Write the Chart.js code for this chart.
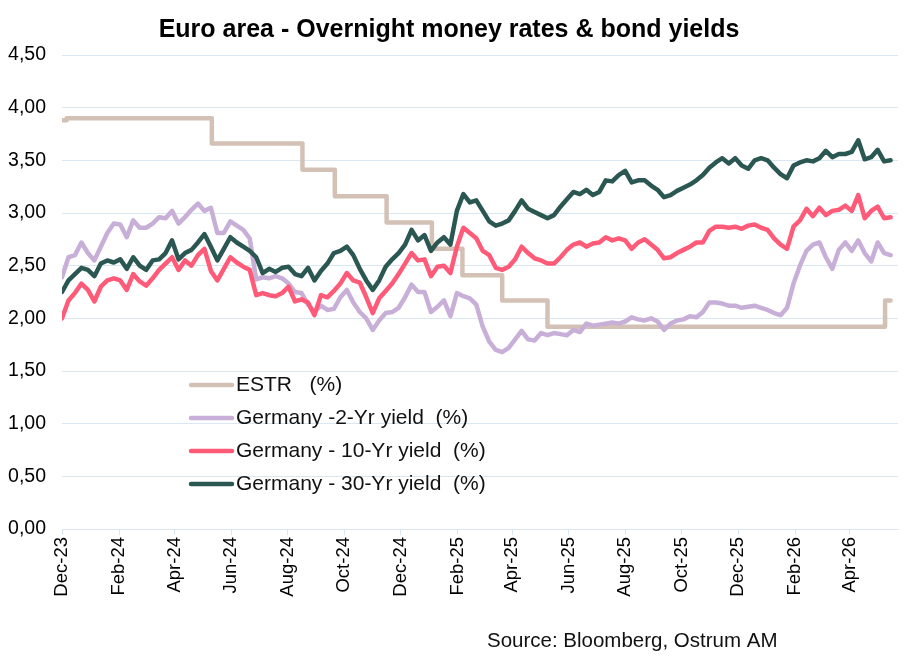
<!DOCTYPE html>
<html>
<head>
<meta charset="utf-8">
<script src="https://cdn.jsdelivr.net/npm/chart.js@4"></script>
<style>
  html, body { margin: 0; padding: 0; background: #fff; }
</style>
</head>
<body>
<canvas id="chart" width="908" height="670"></canvas>
<script>
// Données (hebdomadaires)
const startDate = '2023-12-01';
const endDate = '2026-05-23';

const tickDates = ['2023-12-01', '2024-02-01', '2024-04-01', '2024-06-01', '2024-08-01', '2024-10-01', '2024-12-01',
  '2025-02-01', '2025-04-01', '2025-06-01', '2025-08-01', '2025-10-01', '2025-12-01', '2026-02-01', '2026-04-01'];
const tickLabels = ['Dec-23', 'Feb-24', 'Apr-24', 'Jun-24', 'Aug-24', 'Oct-24', 'Dec-24',
  'Feb-25', 'Apr-25', 'Jun-25', 'Aug-25', 'Oct-25', 'Dec-25', 'Feb-26', 'Apr-26'];

const seriesNames = ['ESTR   (%)', 'Germany -2-Yr yield  (%)', 'Germany - 10-Yr yield  (%)', 'Germany - 30-Yr yield  (%)'];
const seriesColors = ['#d4c1b6', '#c8afd7', '#ff5b79', '#2b5752'];

// ESTR : dates de changement et niveaux
const estrDates = ['2023-12-01', '2023-12-06', '2024-05-11', '2024-08-17', '2024-09-21', '2024-11-16',
  '2025-01-04', '2025-02-06', '2025-03-21', '2025-05-09', '2026-05-09', '2026-05-15'];
const estr = [3.88, 3.90, 3.66, 3.41, 3.16, 2.91, 2.66, 2.41, 2.17, 1.92, 2.17, 2.17];

const de2y = [
  2.39, 2.58, 2.60, 2.72, 2.62, 2.55, 2.68, 2.81, 2.90, 2.89,
  2.77, 2.93, 2.86, 2.86, 2.90, 2.96, 2.95, 3.02, 2.90, 2.96,
  3.03, 3.09, 3.02, 3.05, 2.81, 2.81, 2.92, 2.88, 2.84, 2.76,
  2.37, 2.39, 2.38, 2.40, 2.38, 2.33, 2.25, 2.24, 2.13, 2.06,
  2.12, 2.08, 2.09, 2.20, 2.27, 2.15, 2.06, 2.00, 1.89, 1.98,
  2.05, 2.06, 2.10, 2.20, 2.32, 2.25, 2.25, 2.06, 2.11, 2.17,
  2.02, 2.24, 2.21, 2.19, 2.13, 1.92, 1.78, 1.70, 1.68, 1.72,
  1.80, 1.88, 1.80, 1.79, 1.86, 1.84, 1.86, 1.85, 1.84, 1.89,
  1.87, 1.95, 1.93, 1.94, 1.95, 1.96, 1.95, 1.97, 2.01, 1.99,
  1.98, 2.00, 1.97, 1.89, 1.95, 1.98, 1.99, 2.02, 2.01, 2.06,
  2.15, 2.15, 2.14, 2.12, 2.12, 2.10, 2.11, 2.12, 2.10, 2.08,
  2.05, 2.03, 2.10, 2.33, 2.50, 2.64, 2.70, 2.72, 2.58, 2.47,
  2.65, 2.72, 2.64, 2.74, 2.62, 2.54, 2.72, 2.62, 2.60
];

const de10y = [
  2.00, 2.17, 2.24, 2.33, 2.27, 2.16, 2.30, 2.36, 2.38, 2.36,
  2.27, 2.42, 2.35, 2.31, 2.38, 2.46, 2.52, 2.58, 2.46, 2.55,
  2.50, 2.60, 2.66, 2.45, 2.36, 2.47, 2.58, 2.53, 2.49, 2.46,
  2.22, 2.24, 2.22, 2.21, 2.24, 2.30, 2.16, 2.18, 2.15, 2.03,
  2.22, 2.20, 2.26, 2.33, 2.43, 2.36, 2.34, 2.20, 2.05, 2.19,
  2.26, 2.33, 2.42, 2.52, 2.62, 2.55, 2.56, 2.40, 2.49, 2.50,
  2.43, 2.68, 2.86, 2.81, 2.76, 2.64, 2.60, 2.48, 2.46, 2.49,
  2.56, 2.68, 2.62, 2.57, 2.55, 2.52, 2.52, 2.58, 2.65, 2.70,
  2.72, 2.68, 2.71, 2.72, 2.77, 2.74, 2.76, 2.74, 2.66, 2.72,
  2.75, 2.70, 2.65, 2.57, 2.58, 2.62, 2.65, 2.68, 2.72, 2.72,
  2.83, 2.87, 2.87, 2.86, 2.87, 2.85, 2.88, 2.89, 2.86, 2.84,
  2.76, 2.70, 2.66, 2.87, 2.93, 3.04, 2.97, 3.05, 2.98, 3.02,
  3.03, 3.07, 3.02, 3.17, 2.95, 3.02, 3.06, 2.95, 2.96
];

const de30y = [
  2.25, 2.36, 2.42, 2.48, 2.46, 2.40, 2.52, 2.55, 2.53, 2.56,
  2.47, 2.58, 2.50, 2.46, 2.55, 2.56, 2.62, 2.74, 2.56, 2.62,
  2.65, 2.72, 2.80, 2.68, 2.55, 2.66, 2.77, 2.72, 2.68, 2.64,
  2.58, 2.43, 2.47, 2.44, 2.48, 2.49, 2.42, 2.40, 2.48, 2.36,
  2.45, 2.52, 2.62, 2.64, 2.68, 2.60, 2.47, 2.36, 2.27, 2.36,
  2.49, 2.56, 2.62, 2.70, 2.84, 2.74, 2.79, 2.64, 2.72, 2.77,
  2.70, 3.02, 3.18, 3.10, 3.12, 3.02, 2.92, 2.88, 2.90, 2.93,
  3.02, 3.12, 3.04, 3.01, 2.98, 2.95, 2.98, 3.06, 3.13, 3.20,
  3.18, 3.22, 3.17, 3.20, 3.31, 3.30, 3.36, 3.40, 3.29, 3.31,
  3.31, 3.26, 3.22, 3.15, 3.17, 3.21, 3.24, 3.27, 3.31, 3.36,
  3.43, 3.48, 3.52, 3.47, 3.52, 3.45, 3.42, 3.50, 3.52, 3.50,
  3.43, 3.37, 3.33, 3.45, 3.48, 3.50, 3.49, 3.52, 3.59, 3.53,
  3.56, 3.56, 3.58, 3.69, 3.51, 3.53, 3.60, 3.49, 3.50
];

// jours depuis le début
function dayOf(str) {
  return (Date.parse(str) - Date.parse(startDate)) / 86400000;
}

// une observation par semaine
const weekDays = de30y.map((v, i) => i * 7);

const toPoints = arr => arr.map((v, i) => ({ x: weekDays[i], y: v }));

const fontName = '"Liberation Sans", Arial, sans-serif';
const gridColor = '#d8e7f2';

// Légende dessinée dans la zone du graphique + source
const legendeSource = {
  id: 'legendeSource',
  afterDraw(chart) {
    const ctx = chart.ctx;
    ctx.save();
    ctx.font = '21px ' + fontName;
    ctx.textBaseline = 'middle';
    ctx.textAlign = 'left';
    seriesNames.forEach((name, i) => {
      const y = 385 + i * 33;
      ctx.strokeStyle = seriesColors[i];
      ctx.lineWidth = 4.5;
      ctx.lineCap = 'round';
      ctx.beginPath();
      ctx.moveTo(191, y);
      ctx.lineTo(232, y);
      ctx.stroke();
      ctx.fillStyle = '#111';
      ctx.fillText(name, 236, y);
    });
    ctx.font = '20.5px ' + fontName;
    ctx.fillText('Source: Bloomberg, Ostrum AM', 487, 641);
    ctx.restore();
  }
};

const config = {
  type: 'line',
  data: {
    datasets: [
      { label: seriesNames[0], data: estr.map((v, i) => ({ x: dayOf(estrDates[i]), y: v })), stepped: true,
        borderColor: seriesColors[0], order: 4 },
      { label: seriesNames[1], data: toPoints(de2y), borderColor: seriesColors[1], order: 3 },
      { label: seriesNames[2], data: toPoints(de10y), borderColor: seriesColors[2], order: 2 },
      { label: seriesNames[3], data: toPoints(de30y), borderColor: seriesColors[3], order: 1 }
    ]
  },
  options: {
    responsive: false,
    animation: false,
    devicePixelRatio: 1,
    layout: { padding: { left: 0, right: 10, top: 0, bottom: 0 } },
    elements: {
      point: { radius: 0 },
      line: { borderWidth: 4.5, tension: 0, borderJoinStyle: 'round', borderCapStyle: 'round' }
    },
    plugins: {
      legend: { display: false },
      tooltip: { enabled: false },
      title: {
        display: true,
        text: 'Euro area - Overnight money rates & bond yields',
        color: '#000',
        font: { family: fontName, size: 25, weight: 'bold' },
        padding: { top: 15, bottom: 10 }
      }
    },
    scales: {
      x: {
        type: 'linear',
        min: 0,
        max: dayOf(endDate),
        afterBuildTicks: scale => {
          scale.ticks = tickDates.map(d => ({ value: dayOf(d) }));
        },
        afterFit: scale => { scale.height = 141; },
        ticks: {
          autoSkip: false,
          maxRotation: 90,
          minRotation: 90,
          padding: 2,
          color: '#000',
          font: { family: fontName, size: 18.5 },
          callback: (value, index) => tickLabels[index]
        },
        grid: { drawOnChartArea: false, drawTicks: true, tickLength: 6, color: gridColor },
        border: { color: gridColor }
      },
      y: {
        min: 0,
        max: 4.5,
        afterFit: scale => { scale.width = 62; },
        ticks: {
          stepSize: 0.5,
          padding: 16,
          color: '#000',
          font: { family: fontName, size: 19.5 },
          callback: value => value.toFixed(2).replace('.', ',')
        },
        grid: { color: gridColor, drawTicks: false },
        border: { display: false }
      }
    }
  },
  plugins: [legendeSource]
};

const graphique = new Chart(document.getElementById('chart'), config);
</script>
</body>
</html>
